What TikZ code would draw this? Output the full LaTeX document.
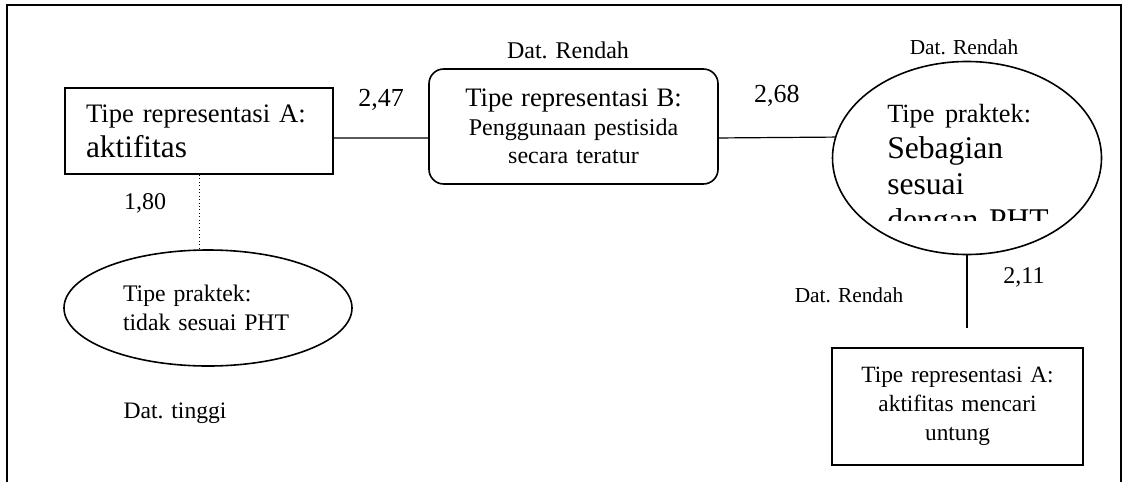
\documentclass[tikz,border=0pt]{standalone}
\usepackage{fontspec}
\setmainfont{Liberation Serif}
\usetikzlibrary{shapes.geometric}
\newcommand{\sz}[2]{\fontsize{#1}{#2}\selectfont}

\begin{document}
\begin{tikzpicture}[x=0.75pt,y=-0.75pt]
		\tikzset{box/.style = {shape=rectangle,draw,line width=1.2pt,inner sep=0pt}}
		\tikzset{blob/.style = {shape=ellipse,draw,line width=1.2pt,inner sep=0pt}}
		\tikzset{lbl/.style = {inner sep=0pt}}
		\useasboundingbox (0,0) rectangle (1126,482);
		\draw[line width=1.6pt] (7,482) -- (7,5) -- (1121,5) -- (1121,482);
		\node[box,minimum width=201pt,minimum height=64.5pt,text width=169.5pt,align=left,font=\sz{20}{26.25}] (ra) at (199,131) {Tipe representasi A:\\\sz{23.5}{26.25}aktifitas};
		\node[box,rounded corners=11pt,minimum width=216.75pt,minimum height=86.25pt,text width=200pt,align=center,font=\sz{18}{21.4}] (rb) at (573.5,126.5) {\sz{20}{21.4}Tipe representasi B:\\\sz{18}{21.4}Penggunaan pestisida\\secara teratur};
		\node[blob,minimum width=201.75pt,minimum height=144.75pt] (pr) at (967,158) {};
		\begin{scope}
			\clip (833,60) rectangle (1102,220);
			\node[lbl,anchor=base west,text width=125pt,align=left,font=\sz{23.7}{27.2}] (prtext) at (887,122) {\sz{19.7}{27.2}Tipe praktek:\\\sz{23.7}{27.2}Sebagian\\sesuai\\dengan PHT};
		\end{scope}
		\node[blob,minimum width=216pt,minimum height=87pt,text width=127.5pt,align=left,font=\sz{17.8}{21.75}] (pl) at (208,308) {Tipe praktek:\\tidak sesuai PHT};
		\node[box,minimum width=188.25pt,minimum height=87.75pt,text width=170pt,align=center,font=\sz{17.5}{21.75}] (ru) at (957.5,406.5) {Tipe representasi A:\\aktifitas mencari\\untung};
		\coordinate (tail) at (967,328);
		\path[draw,line width=0.9pt] ([yshift=-5.25pt]ra.east) edge node[lbl,midway,above=20pt] {\sz{19.5}{20}2,47} ([yshift=-8.6pt]rb.west);
		\path[draw,line width=0.9pt] ([yshift=-8.6pt]rb.east) edge node[lbl,midway,above=23pt] {\sz{19.5}{20}2,68} (pr.171);
		\path[draw,line width=0.6pt,dotted] (ra.south) edge (ra.south |- pl.north);
		\path[draw,line width=0.9pt] (pr.south) edge (tail);
		\node[lbl] (v180) at (145,203) {\sz{18}{20}1,80};
		\node[lbl] (v211) at (1024,277) {\sz{18}{20}2,11};
		\node[lbl] (drb) at (568,50) {\sz{18}{20}Dat. Rendah};
		\node[lbl] (drp) at (964,47) {\sz{16}{20}Dat. Rendah};
		\node[lbl] (dru) at (849,295) {\sz{16}{20}Dat. Rendah};
		\node[lbl] (dtl) at (175,413) {\sz{17.7}{20}Dat. tinggi};
	\end{tikzpicture}
\end{document}
